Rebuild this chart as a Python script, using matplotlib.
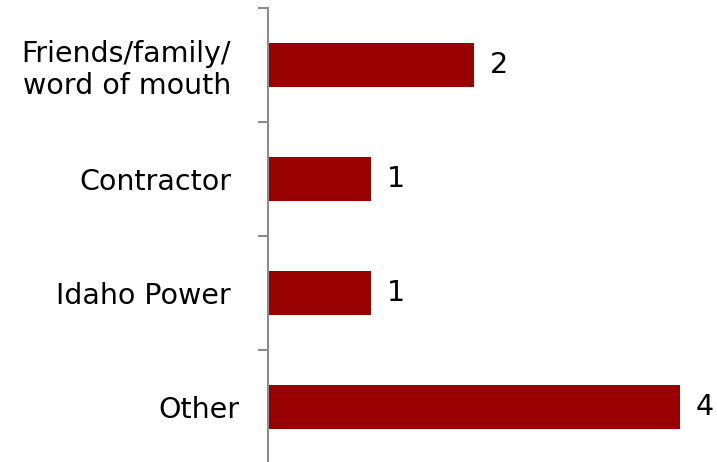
import matplotlib
matplotlib.use("Agg")
import matplotlib.pyplot as plt
import matplotlib.transforms as mtransforms
import numpy as np

categories = ["Friends/family/\nword of mouth", "Contractor", "Idaho Power", "Other"]
counts = [2, 1, 1, 4]

BAR_COLOR = "#990000"
AXIS_COLOR = "#8c8c8c"
FONT_SIZE = 20.5

plt.rcParams["font.family"] = ["DejaVu Sans"]

fig = plt.figure(figsize=(7.17, 4.62), dpi=100)
ax = fig.add_axes([268 / 717, -2 / 462, 1 - 268 / 717, 456 / 462])

y = np.arange(len(categories))
bars = ax.barh(y, counts, height=0.39, color=BAR_COLOR)

ax.set_xlim(0, (717 - 268) / 103)
ax.set_ylim(len(categories) - 0.5, -0.5)

ax.set_yticks(y)
ax.set_yticklabels(categories, fontsize=FONT_SIZE, ha="right")
ax.set_yticks(np.arange(len(categories) + 1) - 0.5, minor=True)
ax.tick_params(axis="y", which="major", length=0, pad=26.5)
ax.tick_params(axis="y", which="minor", length=7, width=1.5, color=AXIS_COLOR)
ax.set_xticks([])

# the last label sits a little further right in the original
last = ax.get_yticklabels()[-1]
last.set_transform(last.get_transform() + mtransforms.ScaledTranslation(8 / 100, 0, fig.dpi_scale_trans))

for side in ["top", "right", "bottom"]:
    ax.spines[side].set_visible(False)
ax.spines["left"].set_color(AXIS_COLOR)
ax.spines["left"].set_linewidth(1.5)

ax.bar_label(bars, labels=[str(c) for c in counts], padding=11.5, fontsize=FONT_SIZE)

fig.savefig("out.png", dpi=100)
